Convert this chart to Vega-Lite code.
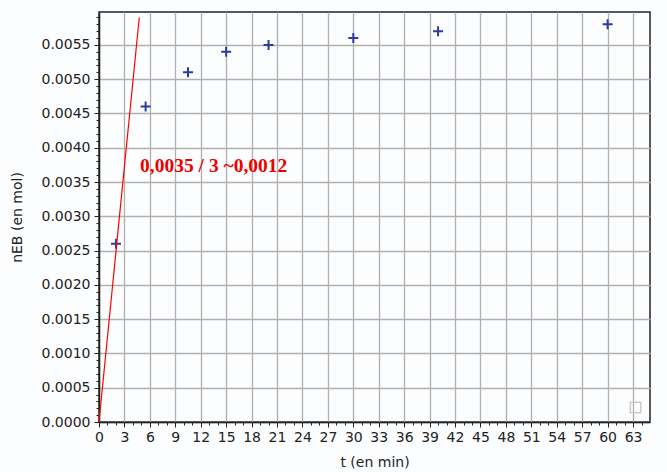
{
  "$schema": "https://vega.github.io/schema/vega-lite/v6.json",
  "width": 551,
  "height": 410,
  "autosize": {"type": "none"},
  "padding": {"left": 99, "top": 12, "right": 17, "bottom": 50},
  "background": "#fcfdfe",
  "config": {
    "view": {"stroke": "#222222", "strokeWidth": 1.5},
    "axis": {
      "labelFont": "DejaVu Sans",
      "labelFontSize": 14,
      "labelColor": "#222222",
      "titleFont": "DejaVu Sans",
      "titleFontSize": 14,
      "titleFontWeight": "normal",
      "titleColor": "#222222",
      "domainColor": "#222222",
      "domainWidth": 1.5,
      "tickColor": "#222222",
      "gridColor": "#b0b0b0",
      "gridWidth": 1.3,
      "gridOpacity": 1
    }
  },
  "datasets": {
    "mesures": [
      {"t": 2, "n": 0.0026},
      {"t": 5.5, "n": 0.0046},
      {"t": 10.5, "n": 0.0051},
      {"t": 15, "n": 0.0054},
      {"t": 20, "n": 0.0055},
      {"t": 30, "n": 0.0056},
      {"t": 40, "n": 0.0057},
      {"t": 60, "n": 0.0058}
    ],
    "tangente": [
      {"t": 0, "n": 0},
      {"t": 4.75, "n": 0.0059}
    ],
    "note": [
      {"t": 4.85, "n": 0.00364, "label": "0,0035 / 3 ~0,0012"}
    ],
    "legende": [
      {"t": 63.3, "n": 0.00021}
    ]
  },
  "layer": [
    {
      "data": {"name": "mesures"},
      "mark": {
        "type": "point",
        "shape": "M-1,0L1,0M0,-1L0,1",
        "filled": false,
        "stroke": "#2e3b9e",
        "strokeWidth": 2,
        "size": 100,
        "opacity": 1
      },
      "encoding": {
        "x": {
          "field": "t",
          "type": "quantitative",
          "scale": {"domain": [0, 65], "nice": false, "zero": false},
          "axis": {
            "orient": "bottom",
            "title": "t (en min)",
            "values": [0, 3, 6, 9, 12, 15, 18, 21, 24, 27, 30, 33, 36, 39, 42, 45, 48, 51, 54, 57, 60, 63],
            "grid": true,
            "tickSize": 5,
            "labelPadding": 3,
            "titlePadding": 11,
            "labelFlush": false,
            "labelOverlap": false
          }
        },
        "y": {
          "field": "n",
          "type": "quantitative",
          "scale": {"domain": [0, 0.00598], "nice": false, "zero": false},
          "axis": {
            "orient": "left",
            "title": "nEB (en mol)",
            "values": [0, 0.0005, 0.001, 0.0015, 0.002, 0.0025, 0.003, 0.0035, 0.004, 0.0045, 0.005, 0.0055],
            "format": ".4f",
            "grid": true,
            "tickSize": 5,
            "labelPadding": 4,
            "titlePadding": 17,
            "labelFlush": false,
            "labelOverlap": false
          }
        }
      }
    },
    {
      "data": {"name": "tangente"},
      "mark": {"type": "line", "color": "#ff0000", "strokeWidth": 1.2},
      "encoding": {
        "x": {
          "field": "t",
          "type": "quantitative",
          "scale": {"domain": [0, 65], "nice": false, "zero": false},
          "axis": {
            "orient": "bottom",
            "title": null,
            "values": [1, 2, 4, 5, 7, 8, 10, 11, 13, 14, 16, 17, 19, 20, 22, 23, 25, 26, 28, 29, 31, 32, 34, 35, 37, 38, 40, 41, 43, 44, 46, 47, 49, 50, 52, 53, 55, 56, 58, 59, 61, 62, 64],
            "labels": false,
            "grid": false,
            "domain": false,
            "tickSize": 3
          }
        },
        "y": {
          "field": "n",
          "type": "quantitative",
          "scale": {"domain": [0, 0.00598], "nice": false, "zero": false},
          "axis": {
            "orient": "left",
            "title": null,
            "values": [0.0001, 0.0002, 0.0003, 0.0004, 0.0006, 0.0007, 0.0008, 0.0009, 0.0011, 0.0012, 0.0013, 0.0014, 0.0016, 0.0017, 0.0018, 0.0019, 0.0021, 0.0022, 0.0023, 0.0024, 0.0026, 0.0027, 0.0028, 0.0029, 0.0031, 0.0032, 0.0033, 0.0034, 0.0036, 0.0037, 0.0038, 0.0039, 0.0041, 0.0042, 0.0043, 0.0044, 0.0046, 0.0047, 0.0048, 0.0049, 0.0051, 0.0052, 0.0053, 0.0054, 0.0056, 0.0057, 0.0058, 0.0059],
            "labels": false,
            "grid": false,
            "domain": false,
            "tickSize": 3
          }
        }
      }
    },
    {
      "data": {"name": "note"},
      "mark": {
        "type": "text",
        "align": "left",
        "baseline": "alphabetic",
        "font": "Liberation Serif",
        "fontWeight": "bold",
        "fontSize": 19.5,
        "color": "#ee0000"
      },
      "encoding": {
        "x": {"field": "t", "type": "quantitative", "axis": null},
        "y": {"field": "n", "type": "quantitative", "axis": null},
        "text": {"field": "label"}
      }
    },
    {
      "data": {"name": "legende"},
      "mark": {
        "type": "point",
        "shape": "square",
        "filled": false,
        "stroke": "#cccccc",
        "strokeWidth": 1.5,
        "size": 110,
        "opacity": 1
      },
      "encoding": {
        "x": {"field": "t", "type": "quantitative", "axis": null},
        "y": {"field": "n", "type": "quantitative", "axis": null}
      }
    }
  ],
  "resolve": {"axis": {"x": "independent", "y": "independent"}}
}
